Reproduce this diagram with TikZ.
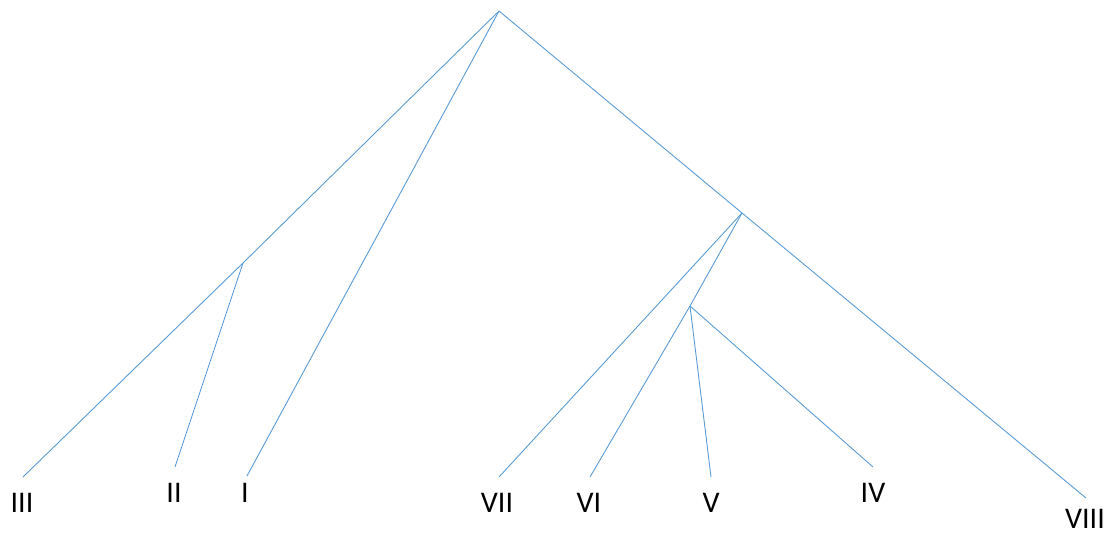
\documentclass[tikz,border=0pt]{standalone}
\usepackage{fontspec}
\setmainfont{Carlito}
\usetikzlibrary{positioning}
\definecolor{branchblue}{RGB}{91,155,213}

\begin{document}
\begin{tikzpicture}[x=1pt, y=-1pt,
  branch/.style={draw=branchblue, line width=0.9pt},
  leaf/.style={font=\fontsize{30}{36}\selectfont, inner sep=0pt, text=black}
]
  \useasboundingbox (0,0) rectangle (1110,534);
  % inner points of the tree
  \coordinate (root) at (499,11);
  \coordinate (a)    at (243,263);
  \coordinate (b)    at (742,213);
  \coordinate (c)    at (690,306);
  % ends of the branches
  \coordinate (e3) at (23,477);
  \coordinate (e2) at (175,467);
  \coordinate (e1) at (247,476);
  \coordinate (e7) at (499,477);
  \coordinate (e6) at (590,477);
  \coordinate (e5) at (711,477);
  \coordinate (e4) at (873,467);
  \coordinate (e8) at (1086,498);
  % labels
  \node[leaf] (l3) at (22,503)   {III};
  \node[leaf] (l2) at (174,493)  {II};
  \node[leaf] (l1) at (245,493)  {I};
  \node[leaf] (l7) at (497,503)  {VII};
  \node[leaf] (l6) at (589,503)  {VI};
  \node[leaf] (l5) at (711,503)  {V};
  \node[leaf] (l4) at (873,493)  {IV};
  \node[leaf] (l8) at (1085,519) {VIII};
  % branches
  \draw[branch] (root) -- (a) -- (e3);
  \draw[branch] (a) -- (e2);
  \draw[branch] (root) -- (e1);
  \draw[branch] (root) -- (b) -- (e8);
  \draw[branch] (b) -- (e7);
  \draw[branch] (b) -- (c) -- (e6);
  \draw[branch] (c) -- (e5);
  \draw[branch] (c) -- (e4);
\end{tikzpicture}
\end{document}
